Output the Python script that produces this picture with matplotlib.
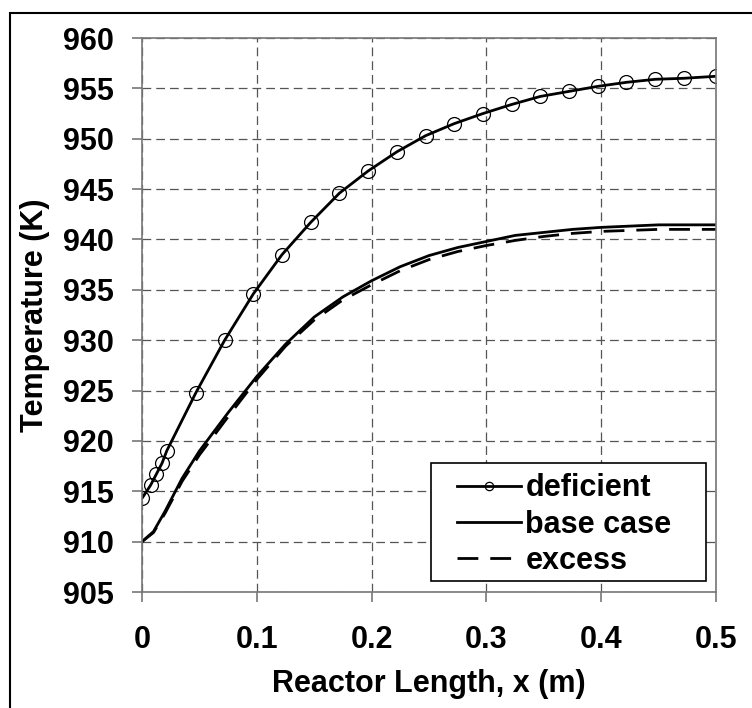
import matplotlib
matplotlib.use("Agg")
import matplotlib.pyplot as plt
from matplotlib.patches import Rectangle

plt.rcParams['font.family'] = ['Liberation Sans', 'DejaVu Sans']
plt.rcParams['font.weight'] = 'bold'

# deficient (markers)
x_def = [0.0, 0.0075, 0.0125, 0.0175, 0.0215, 0.047, 0.072, 0.097, 0.122, 0.147,
         0.172, 0.197, 0.222, 0.247, 0.272, 0.297, 0.322, 0.347, 0.372, 0.397,
         0.422, 0.447, 0.472, 0.5]
t_def = [914.3, 915.6, 916.7, 917.8, 919.0, 924.8, 930.0, 934.6, 938.5, 941.7,
         944.6, 946.8, 948.7, 950.3, 951.5, 952.5, 953.4, 954.2, 954.7, 955.2,
         955.6, 955.9, 956.0, 956.2]

# base case and excess
x_run = [0.0, 0.01, 0.02, 0.035, 0.05, 0.075, 0.1, 0.125, 0.15, 0.175, 0.2,
         0.225, 0.25, 0.275, 0.3, 0.325, 0.35, 0.375, 0.4, 0.45, 0.5]
t_base = [910.0, 911.0, 913.0, 916.3, 919.0, 922.8, 926.4, 929.6, 932.3, 934.3,
          935.9, 937.3, 938.4, 939.2, 939.8, 940.4, 940.7, 941.0, 941.2, 941.45,
          941.45]
t_exc = [910.0, 910.9, 912.8, 916.0, 918.6, 922.4, 926.1, 929.4, 932.0, 934.0,
         935.5, 936.9, 938.0, 938.8, 939.4, 939.9, 940.3, 940.6, 940.8, 941.0,
         941.0]

x_ticks = [0, 0.1, 0.2, 0.3, 0.4, 0.5]
x_labels = ['0', '0.1', '0.2', '0.3', '0.4', '0.5']
y_ticks = list(range(905, 961, 5))

fig = plt.figure(figsize=(7.52, 7.08), dpi=100)
ax = fig.add_axes([142 / 752, 1 - 592 / 708, 574 / 752, 554 / 708])

# outer frame (only left and top edges fall inside the picture)
fig.patches.append(Rectangle((9.5 / 752, -0.1), 1.2, 1 - 13 / 708 + 0.1,
                             transform=fig.transFigure, fill=False,
                             edgecolor='black', linewidth=1.5))

ax.plot(x_def, t_def, color='black', linewidth=2, marker='o', markersize=10,
        markerfacecolor='none', markeredgecolor='black', markeredgewidth=0.9,
        label='deficient')
ax.plot(x_run, t_base, color='black', linewidth=2, label='base case')
ax.plot(x_run, t_exc, color='black', linewidth=2, linestyle=(0, (7.5, 4.3)),
        label='excess')

ax.set_xlim(0, 0.5)
ax.set_ylim(905, 960)
ax.set_xticks(x_ticks)
ax.set_xticklabels(x_labels)
ax.set_yticks(y_ticks)

ax.grid(True, color='#555555', linestyle=(0, (7, 4)), linewidth=0.9)
for s in ax.spines.values():
    s.set_color('#777777')
    s.set_linewidth(1.2)

ax.tick_params(axis='both', direction='out', length=7.5, width=1.2,
               color='#777777', labelsize=22)
ax.tick_params(axis='x', pad=16)
ax.tick_params(axis='y', pad=13)

ax.set_xlabel('Reactor Length, x (m)', fontsize=22, fontweight='bold', labelpad=10)
ax.set_ylabel('Temperature (K)', fontsize=22, fontweight='bold', labelpad=9)

# legend box drawn separately, legend content placed inside it
ax.add_patch(Rectangle((0.503, 0.02), 0.48, 0.213, transform=ax.transAxes,
                       facecolor='white', edgecolor='black', linewidth=1.2,
                       zorder=4.5))
leg = ax.legend(loc='upper left', bbox_to_anchor=(0.548, 0.214),
                borderaxespad=0, fontsize=22, frameon=False,
                handlelength=2.1, markerscale=0.6, handletextpad=0.15,
                labelspacing=0.2, borderpad=0)
leg.set_zorder(5)
for t in leg.get_texts():
    t.set_fontweight('bold')

fig.savefig('out.png', dpi=100)
